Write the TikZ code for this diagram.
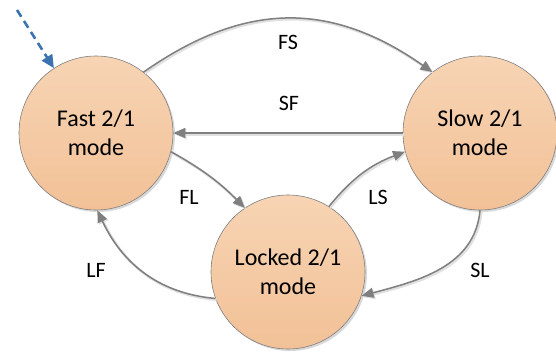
\documentclass[tikz,border=0pt]{standalone}
\usepackage{fontspec}
\setmainfont{Carlito}
\usetikzlibrary{arrows.meta,shadows}
\definecolor{edgegray}{HTML}{7F7F7F}
\definecolor{peachtop}{HTML}{F7D4B4}
\definecolor{peachbot}{HTML}{F2C197}
\definecolor{initblue}{HTML}{3B73B0}
\begin{document}
\begin{tikzpicture}[x=1pt,y=1pt,
  state/.style={circle, draw=edgegray, line width=0.6pt, top color=peachtop, bottom color=peachbot,
    minimum size=154pt, inner sep=0pt, align=center,
    font=\fontsize{24}{29}\selectfont,
    drop shadow={shadow xshift=2pt, shadow yshift=-2pt, fill=black!30, opacity=0.5}},
  edge/.style={draw=edgegray, line width=1.5pt, -{Triangle[length=12pt,width=10pt]},
    preaction={draw=black!12, line width=2.6pt, transform canvas={shift={(1.3pt,-1.3pt)}}}},
  lbl/.style={font=\fontsize{22}{25}\selectfont, inner sep=0pt}]
\useasboundingbox (0,0) rectangle (556,353);
\node[state] (F) at (96,220) {Fast 2/1\\mode};
\node[state] (S) at (480,220) {Slow 2/1\\mode};
\node[state] (L) at (288,81) {Locked 2/1\\mode};
\coordinate (init) at (17,343);
\draw[initblue, line width=2.6pt, dash pattern=on 8pt off 5pt, -{Triangle[length=13pt,width=12pt]}] (init) -- (F.123);
\draw[edge] (F.52) to[out=35,in=145,looseness=1.1] (S.128);
\draw[edge] (S.180) -- (F.0);
\draw[edge] (F.-14) to[bend left=8] (L.124);
\draw[edge] (L.58) to[bend left=15] (S.194);
\draw[edge] (S.-90) to[out=-95,in=15] (L.-18);
\draw[edge] (L.200) to[out=175,in=-65] (F.-89);
\node[lbl] (fs) at (288,311) {FS};
\node[lbl] (sf) at (289,250) {SF};
\node[lbl] (fl) at (189,156) {FL};
\node[lbl] (lf) at (96,83) {LF};
\node[lbl] (ls) at (378,156) {LS};
\node[lbl] (sl) at (480,83) {SL};
\end{tikzpicture}
\end{document}
